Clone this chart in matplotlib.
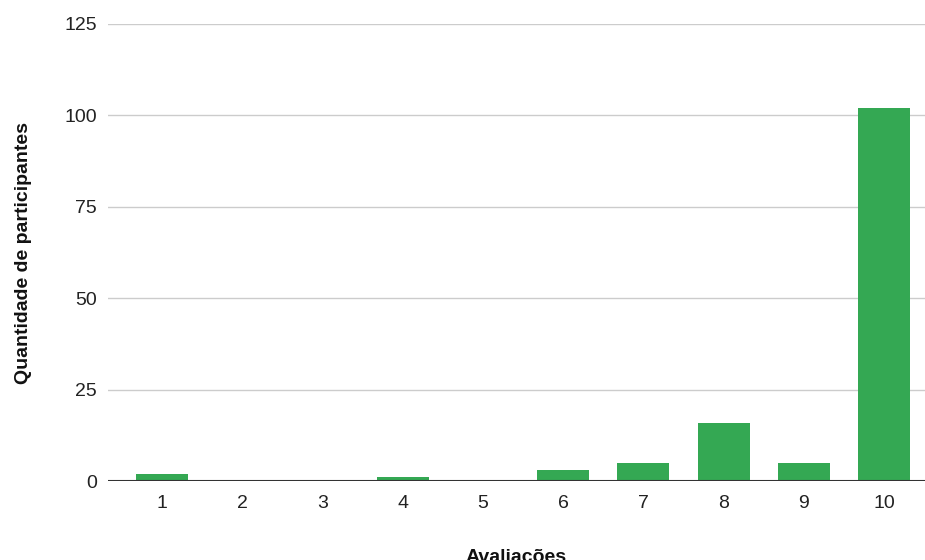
import matplotlib
matplotlib.use("Agg")
import matplotlib.pyplot as plt

# notas de avaliação e contagem de participantes
avaliacoes = ["1", "2", "3", "4", "5", "6", "7", "8", "9", "10"]
participantes = [2, 0, 0, 1, 0, 3, 5, 16, 5, 102]
y_ticks = [0, 25, 50, 75, 100, 125]

cor_barra = "#34A853"
plt.rcParams["font.family"] = ["Liberation Sans", "DejaVu Sans"]

fig = plt.figure(figsize=(9.25, 5.6), dpi=100)
ax = fig.add_axes([108 / 925, 79 / 560, 817 / 925, 457 / 560])

x = list(range(1, len(avaliacoes) + 1))
ax.bar(x, participantes, width=0.65, color=cor_barra, zorder=3)

ax.set_xlim(0.327, 10.51)
ax.set_ylim(0, 125)
ax.set_yticks(y_ticks)
ax.set_xticks(x)
ax.set_xticklabels(avaliacoes)
ax.tick_params(axis="both", length=0, labelsize=14, colors="#222222")
ax.tick_params(axis="y", pad=8)
ax.tick_params(axis="x", pad=10)

ax.grid(axis="y", color="#cccccc", linewidth=1, zorder=0)
ax.axhline(0, color="#333333", linewidth=1.5, zorder=4)
for s in ax.spines.values():
    s.set_visible(False)

ax.set_ylabel("Quantidade de participantes", fontsize=14, fontweight="bold",
              color="#111111", labelpad=23)
ax.set_xlabel("Avaliações", fontsize=14, fontweight="bold",
              color="#111111", labelpad=27)

fig.savefig("out.png", dpi=100)
